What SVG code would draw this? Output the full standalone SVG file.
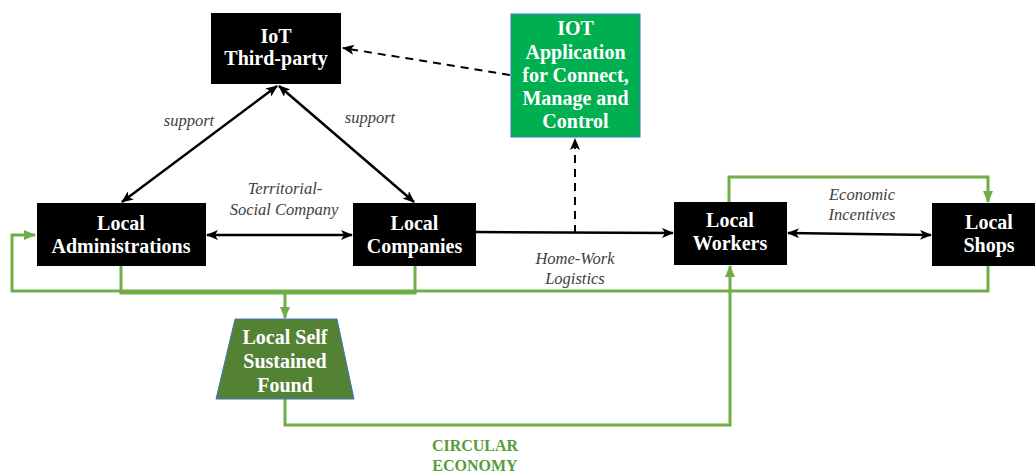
<svg xmlns="http://www.w3.org/2000/svg" width="1035" height="474" viewBox="0 0 1035 474" font-family="Liberation Serif, DejaVu Serif, serif">
<style>
.box{fill:#000}
.lbl{font-family:'Liberation Serif','DejaVu Serif',serif;font-weight:bold;font-size:20px;fill:#fff;text-anchor:middle}
.it{font-family:'Liberation Serif','DejaVu Serif',serif;font-style:italic;font-size:16.5px;fill:#404040;text-anchor:middle}
.ce{font-family:'Liberation Serif','DejaVu Serif',serif;font-weight:bold;font-size:16px;fill:#5b9a3c;text-anchor:middle}
.blk{stroke:#000;stroke-width:2.5;fill:none}
.dash{stroke:#000;stroke-width:2;fill:none;stroke-dasharray:8,6}
.grn{stroke:#70ad47;stroke-width:3;fill:none}
</style>
<defs>
<marker id="ab" markerUnits="userSpaceOnUse" markerWidth="12" markerHeight="10" refX="11" refY="5" orient="auto-start-reverse" viewBox="0 0 12 10">
<path d="M0,0 L12,5 L0,10 L3,5 Z" fill="#000"/>
</marker>
<marker id="ag" markerUnits="userSpaceOnUse" markerWidth="12" markerHeight="10" refX="11" refY="5" orient="auto" viewBox="0 0 12 10">
<path d="M0,0 L12,5 L0,10 Z" fill="#70ad47"/>
</marker>
</defs>
<rect width="1035" height="474" fill="#fff"/>

<g id="connectors">
<line class="dash" x1="510" y1="75" x2="343" y2="48" marker-end="url(#ab)"/>
<line class="dash" x1="575" y1="233" x2="575" y2="139" marker-end="url(#ab)"/>
<line class="blk" x1="277" y1="86" x2="122" y2="202" marker-start="url(#ab)" marker-end="url(#ab)"/>
<line class="blk" x1="279" y1="86" x2="414" y2="202" marker-start="url(#ab)" marker-end="url(#ab)"/>
<line class="blk" x1="207" y1="235" x2="352" y2="235" marker-start="url(#ab)" marker-end="url(#ab)"/>
<line class="blk" x1="476" y1="232" x2="673" y2="233" marker-end="url(#ab)"/>
<line class="blk" x1="788" y1="233" x2="931" y2="235" marker-start="url(#ab)" marker-end="url(#ab)"/>
<path class="grn" d="M988 266 V291 H12 V235 H35" marker-end="url(#ag)"/>
<path class="grn" d="M121 265 V293 H415 V265"/>
<path class="grn" d="M285 293 V318" marker-end="url(#ag)"/>
<path class="grn" d="M285 399 V425 H730 V266" marker-end="url(#ag)"/>
<path class="grn" d="M729 202 V177 H988 V202" marker-end="url(#ag)"/>
</g>

<g id="labels">
<text class="it" x="189" y="126">support</text>
<text class="it" x="370" y="123">support</text>
<text class="it" x="285" y="194">Territorial-</text>
<text class="it" x="284" y="215">Social Company</text>
<text class="it" x="575" y="264">Home-Work</text>
<text class="it" x="575" y="284">Logistics</text>
<text class="it" x="862" y="200">Economic</text>
<text class="it" x="862" y="220">Incentives</text>
<text class="ce" x="475" y="451">CIRCULAR</text>
<text class="ce" x="475" y="471">ECONOMY</text>
</g>

<g id="iot-third-party">
<rect class="box" x="211" y="13" width="130" height="71"/>
<text class="lbl" x="276" y="43">IoT</text>
<text class="lbl" x="276" y="65">Third-party</text>
</g>

<g id="iot-application">
<rect x="511" y="14" width="129" height="123" fill="#00b050" stroke="#4472c4" stroke-width="1"/>
<text class="lbl" x="575.5" y="35">IOT</text>
<text class="lbl" x="575.5" y="59">Application</text>
<text class="lbl" x="575.5" y="82">for Connect,</text>
<text class="lbl" x="575.5" y="105">Manage and</text>
<text class="lbl" x="575.5" y="128">Control</text>
</g>

<g id="local-administrations">
<rect class="box" x="37" y="203" width="169" height="63"/>
<text class="lbl" x="121" y="230">Local</text>
<text class="lbl" x="121" y="253">Administrations</text>
</g>

<g id="local-companies">
<rect class="box" x="353" y="203" width="123" height="63"/>
<text class="lbl" x="414.5" y="230">Local</text>
<text class="lbl" x="414.5" y="253">Companies</text>
</g>

<g id="local-workers">
<rect class="box" x="674" y="202" width="113" height="63"/>
<text class="lbl" x="730" y="227">Local</text>
<text class="lbl" x="730" y="250">Workers</text>
</g>

<g id="local-shops">
<rect class="box" x="932" y="203" width="110" height="63"/>
<text class="lbl" x="989" y="229">Local</text>
<text class="lbl" x="989" y="252">Shops</text>
</g>

<g id="local-self-sustained-found">
<polygon points="235,319 337,319 354,399 216,399" fill="#548235" stroke="#4472c4" stroke-width="1"/>
<text class="lbl" x="285" y="344">Local Self</text>
<text class="lbl" x="285" y="368">Sustained</text>
<text class="lbl" x="285" y="392">Found</text>
</g>
</svg>
